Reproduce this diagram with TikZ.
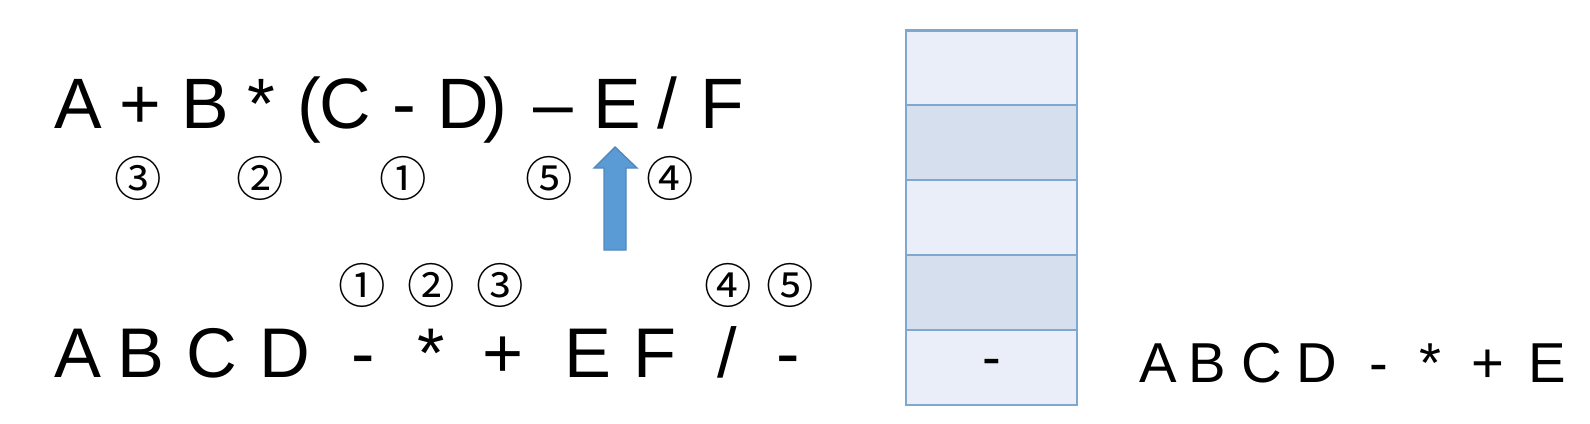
\documentclass[tikz,border=0pt]{standalone}
\usepackage{fontspec}
\setmainfont{Liberation Sans}
\newfontfamily\circfont{Noto Sans CJK JP}
\usepackage{tikz}
\usetikzlibrary{positioning}

\definecolor{cellLight}{HTML}{E9EEF8}
\definecolor{cellDark}{HTML}{D5DFEE}
\definecolor{cellLine}{HTML}{7FA7CF}
\definecolor{ptrBlue}{HTML}{5B9BD5}
\definecolor{ptrLine}{HTML}{5288BC}

\begin{document}
\begin{tikzpicture}[x=0.01cm, y=-0.01cm,
    infix/.style={anchor=base, inner sep=0pt, font=\fontsize{20.3}{24}\selectfont},
    postfix/.style={anchor=base, inner sep=0pt, font=\fontsize{20}{24}\selectfont},
    output/.style={anchor=base, inner sep=0pt, font=\fontsize{16}{19}\selectfont},
    order/.style={inner sep=0pt, font=\circfont\fontsize{13.5}{15}\selectfont},
    cell/.style={draw=cellLine, line width=0.7pt, minimum width=1.71cm, minimum height=0.75cm,
        inner sep=0pt, font=\fontsize{16}{19}\selectfont}]
    \useasboundingbox (0,0) rectangle (1590,424);

    % infix expression
    \node[infix] at (78,128)  (i1)  {A};
    \node[infix] at (140,128) (i2)  {+};
    \node[infix] at (205,128) (i3)  {B};
    \node[infix] at (261,128) (i4)  {*};
    \node[infix] at (309,128) (i5)  {(};
    \node[infix] at (345,128) (i6)  {C};
    \node[infix] at (404,128) (i7)  {-};
    \node[infix] at (463,128) (i8)  {D};
    \node[infix] at (495,128) (i9)  {)};
    \node[infix] at (553,128) (i10) {–};
    \node[infix] at (617,128) (i11) {E};
    \node[infix] at (667,128) (i12) {/};
    \node[infix] at (722,128) (i13) {F};

    \node[order] at (138,178) (o3) {③};
    \node[order] at (260,178) (o2) {②};
    \node[order] at (403,178) (o1) {①};
    \node[order] at (549,178) (o5) {⑤};
    \node[order] at (670,178) (o4) {④};

    % scan pointer
    \filldraw[fill=ptrBlue, draw=ptrLine, line width=0.4pt]
        (604,250) -- (604,168) -- (594,168) -- (615,147) -- (637,168) -- (626,168) -- (626,250) -- cycle;

    % postfix expression
    \node[order] at (362,285) (p1) {①};
    \node[order] at (431,285) (p2) {②};
    \node[order] at (500,285) (p3) {③};
    \node[order] at (728,285) (p4) {④};
    \node[order] at (790,285) (p5) {⑤};

    \node[postfix] at (78,377)  (q1)  {A};
    \node[postfix] at (141,377) (q2)  {B};
    \node[postfix] at (212,377) (q3)  {C};
    \node[postfix] at (285,377) (q4)  {D};
    \node[postfix] at (363,377) (q5)  {-};
    \node[postfix] at (431,377) (q6)  {*};
    \node[postfix] at (503,377) (q7)  {+};
    \node[postfix] at (588,377) (q8)  {E};
    \node[postfix] at (655,377) (q9)  {F};
    \node[postfix] at (727,377) (q10) {/};
    \node[postfix] at (788,377) (q11) {-};

    % stack
    \node[cell, fill=cellLight] at (991.5,68)    (s5) {};
    \node[cell, fill=cellDark]  at (991.5,142.5) (s4) {};
    \node[cell, fill=cellLight] at (991.5,217.5) (s3) {};
    \node[cell, fill=cellDark]  at (991.5,292.5) (s2) {};
    \node[cell, fill=cellLight] at (991.5,367.5) (s1) {-};

    % output so far
    \node[output] at (1158,382) (r1) {A};
    \node[output] at (1207,382) (r2) {B};
    \node[output] at (1262,382) (r3) {C};
    \node[output] at (1317,382) (r4) {D};
    \node[output] at (1379,382) (r5) {-};
    \node[output] at (1430,382) (r6) {*};
    \node[output] at (1488,382) (r7) {+};
    \node[output] at (1547,382) (r8) {E};
\end{tikzpicture}
\end{document}
